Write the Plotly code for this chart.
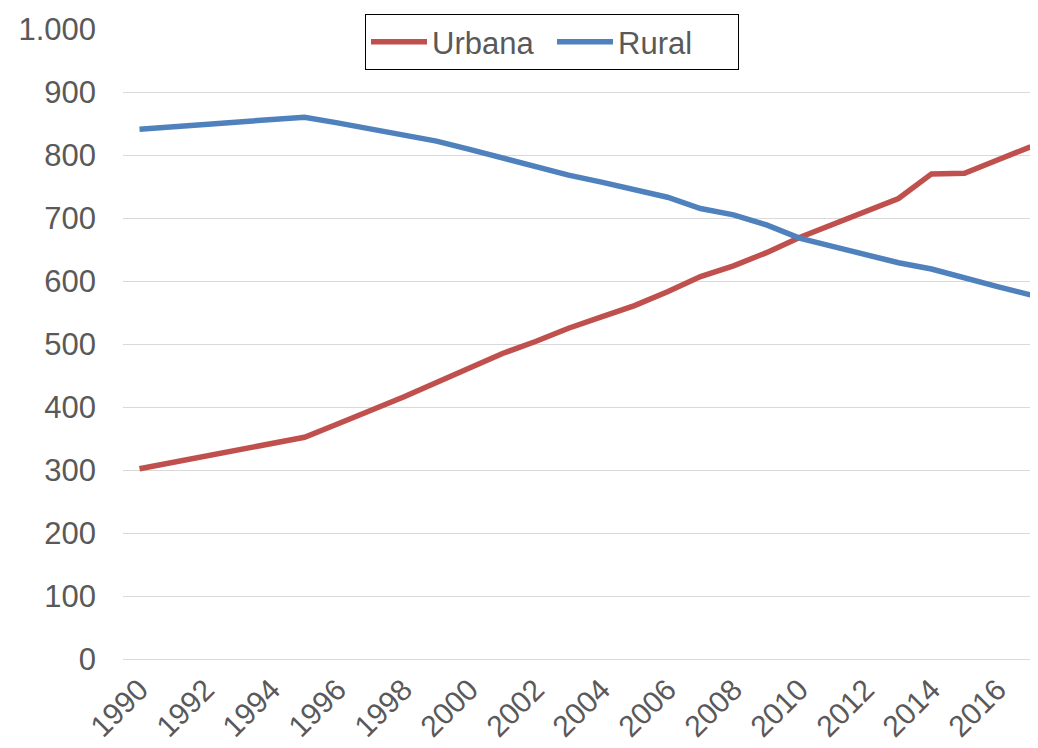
import plotly.graph_objects as go

years = list(range(1990, 2018))
urbana = [302, 312, 322, 332, 342, 352, 373, 394, 416, 439, 463, 485, 504, 525,
          543, 561, 583, 607, 624, 645, 669, 689, 710, 731, 770, 771, 792, 813]
rural = [841, 845, 849, 853, 857, 860, 851, 842, 832, 822, 809, 795, 782, 768,
         757, 746, 733, 715, 705, 689, 668, 655, 641, 629, 619, 604, 591, 578]
tick_years = years[::2]
tick_labels = [str(y) for y in tick_years]
y_ticks = list(range(0, 1001, 100))

FONT = "Liberation Sans, Arial, sans-serif"
TXT = "#595959"

fig = go.Figure()
fig.add_trace(go.Scatter(x=years, y=urbana, mode="lines", name="Urbana",
                         line=dict(color="#C0504D", width=5.5)))
fig.add_trace(go.Scatter(x=years, y=rural, mode="lines", name="Rural",
                         line=dict(color="#4F81BD", width=5.5)))

# page has an 8px body margin, so the figure sits at (8, 8)
fig.update_layout(
    width=1038, height=748,
    margin=dict(l=115, r=8, t=21, b=97, autoexpand=False),
    paper_bgcolor="white", plot_bgcolor="white",
    separators=",.",
    font=dict(family=FONT, size=30, color=TXT),
    showlegend=True,
    legend=dict(orientation="h", x=0.2645, y=1.0238, xanchor="left", yanchor="top",
                bordercolor="#000000", borderwidth=1, bgcolor="white",
                font=dict(family=FONT, size=31, color=TXT),
                itemwidth=56, entrywidth=115, tracegroupgap=0),
)
fig.update_xaxes(range=[1989.5, 1989.5 + 915 / 33.0], tickvals=tick_years, ticktext=tick_labels,
                 tickangle=-45, showgrid=False, showline=False, zeroline=False,
                 ticks="", ticklabelstandoff=6, automargin=False,
                 tickfont=dict(family=FONT, size=30, color=TXT))
fig.update_yaxes(range=[0, 1000], tickvals=y_ticks, separatethousands=True,
                 showgrid=True, gridcolor="#D9D9D9", gridwidth=1,
                 zeroline=True, zerolinecolor="#D9D9D9", zerolinewidth=1,
                 showline=False, ticks="", ticklabelstandoff=26, automargin=False,
                 tickfont=dict(family=FONT, size=31, color=TXT))

fig.write_html("out.html")
